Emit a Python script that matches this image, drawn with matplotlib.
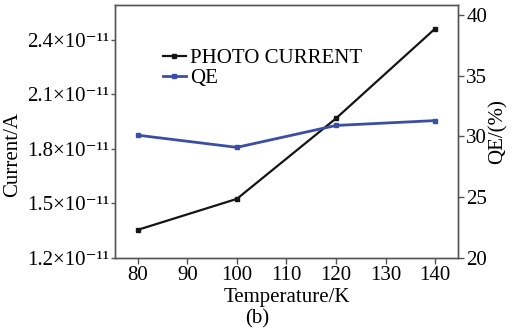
import matplotlib
matplotlib.use("Agg")
import matplotlib.pyplot as plt
from matplotlib.ticker import FixedLocator, FuncFormatter

plt.rcParams['font.family'] = ['Liberation Serif', 'DejaVu Serif']

# data
temperature = [80, 100, 120, 140]
photo_current = [1.355e-11, 1.525e-11, 1.967e-11, 2.46e-11]
qe = [30.1, 29.1, 30.9, 31.3]

current_ticks = [1.2e-11, 1.5e-11, 1.8e-11, 2.1e-11, 2.4e-11]
qe_ticks = [20, 25, 30, 35, 40]
temp_ticks = [80, 90, 100, 110, 120, 130, 140]

black = '#151515'
blue = '#3b4ea6'
spine_col = '#555555'
fs = 15

fig = plt.figure(figsize=(5.15, 3.36), dpi=100)
ax = fig.add_axes([0.2233, 0.232, 0.6657, 0.753])
ax2 = ax.twinx()

l1, = ax.plot(temperature, photo_current, color=black, lw=1.6, marker='s',
              ms=3.5, label='PHOTO CURRENT')
l2, = ax2.plot(temperature, qe, color=blue, lw=2.0, marker='s',
               ms=3.5, label='QE')

ax.set_xlim(75.4, 144.6)
ax.set_ylim(1.2e-11, 2.59e-11)
ax2.set_ylim(20, 40.8)

ax.xaxis.set_major_locator(FixedLocator(temp_ticks))
ax.yaxis.set_major_locator(FixedLocator(current_ticks))
ax2.yaxis.set_major_locator(FixedLocator(qe_ticks))


def sci_fmt(v, pos):
    return '%.1f×10⁻¹¹' % (v / 1e-11)


ax.yaxis.set_major_formatter(FuncFormatter(sci_fmt))

for a in (ax, ax2):
    for s in a.spines.values():
        s.set_color(spine_col)
        s.set_linewidth(1.0)
    a.tick_params(direction='out', length=4, width=1.0, color=spine_col,
                  labelsize=fs, pad=2)
ax.tick_params(axis='y', length=3, pad=1)

ax.set_xlabel('Temperature/K', fontsize=fs, labelpad=2)
ax.set_ylabel('Current/A', fontsize=fs)
ax.yaxis.set_label_coords(-0.27, 0.41)
ax2.set_ylabel('QE/(%)', fontsize=fs, labelpad=1)

fig.text(0.5, 0.052, '(b)', ha='center', va='center', fontsize=fs)

ax.legend([l1, l2], ['PHOTO CURRENT', 'QE'], loc='upper left',
          bbox_to_anchor=(0.115, 0.86), frameon=False, fontsize=fs,
          handlelength=1.1, handletextpad=0.2, labelspacing=0.0,
          borderaxespad=0)

fig.savefig('out.png', dpi=100)
